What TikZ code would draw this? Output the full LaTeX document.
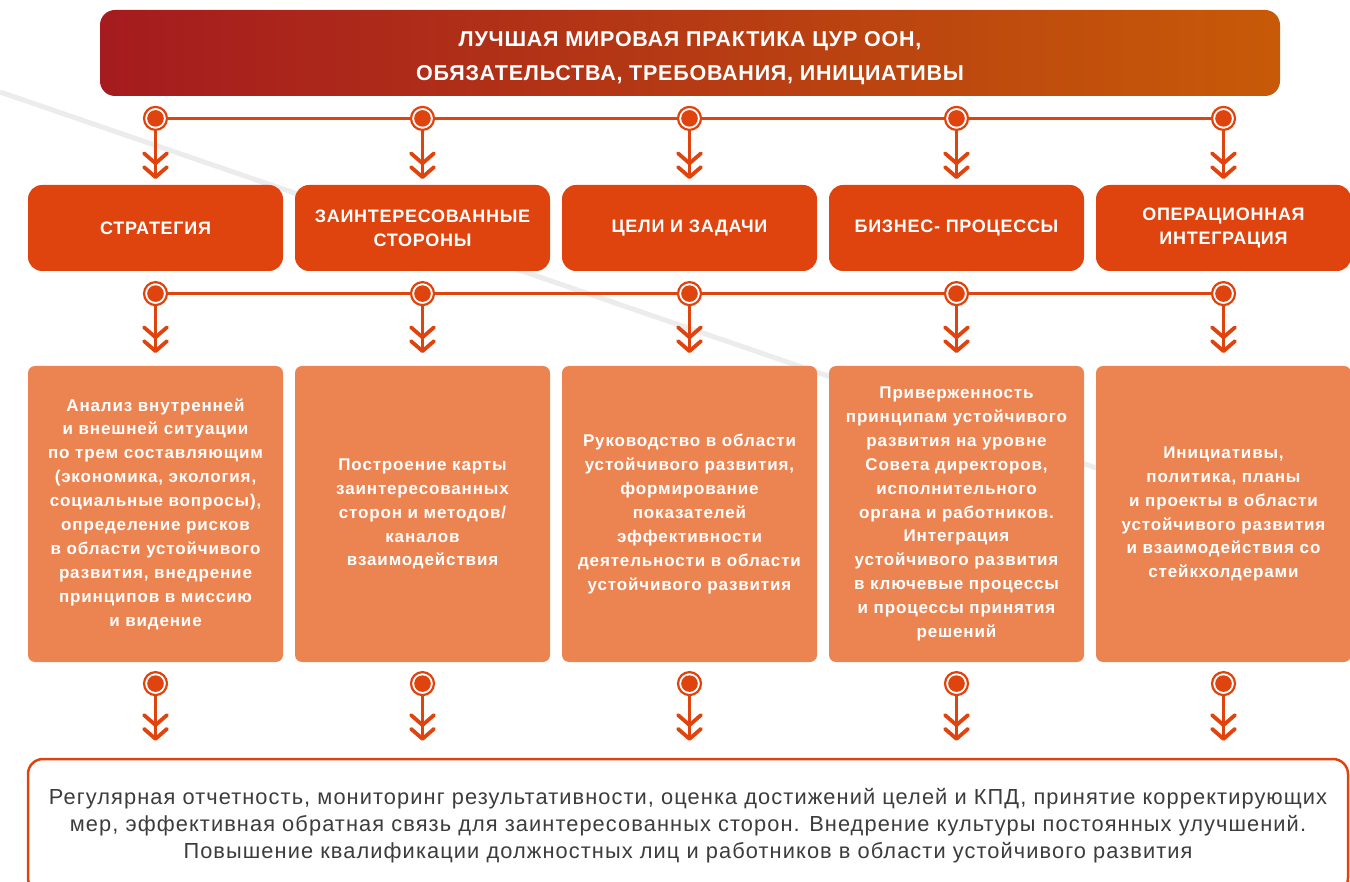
\documentclass[tikz,border=0pt]{standalone}
\usepackage{fontspec}
\setmainfont{Liberation Sans}
\usetikzlibrary{positioning}
\usetikzlibrary{arrows.meta}

\definecolor{ora}{HTML}{E0440E}
\definecolor{pale}{HTML}{EC8452}
\definecolor{wine}{HTML}{A51B1F}
\definecolor{amber}{HTML}{C75A08}
\definecolor{haze}{HTML}{ECECEC}
\definecolor{ink}{HTML}{3C3C3C}

\tikzset{dchev/.tip={Straight Barb[length=10pt,width=23pt,line width'=3.8pt,round]Straight Barb[length=10pt,width=23pt,line width'=3.8pt,round]}}

\begin{document}
\begin{tikzpicture}[x=1pt,y=-1pt,node distance=12pt,thick]
\tikzstyle{head}=[rounded corners=15pt, left color=wine, right color=amber, text=white, align=center,
	minimum width=1180pt, minimum height=86pt, font=\bfseries\fontsize{21.5}{34}\selectfont\addfontfeatures{LetterSpace=3.5}]
\tikzstyle{stage}=[rounded corners=14pt, fill=ora, text=white, align=center, outer sep=0pt,
	minimum width=255pt, minimum height=86pt, inner sep=0pt, font=\bfseries\fontsize{18}{24}\selectfont\addfontfeatures{LetterSpace=4}]
\tikzstyle{task}=[rounded corners=7pt, fill=pale, text=white, align=center, outer sep=0pt,
	minimum width=255pt, minimum height=296pt, inner sep=0pt, font=\bfseries\fontsize{17}{23.9}\selectfont\addfontfeatures{LetterSpace=5}]
\tikzstyle{hub}=[circle, draw=ora, line width=2.2pt, fill=white, minimum size=23pt, inner sep=0pt,
	path picture={\fill[ora] (path picture bounding box.center) circle (8.3pt);}]
\tikzstyle{link}=[draw=ora, line width=3pt]
\tikzstyle{flow}=[draw=ora, line width=3.3pt, -dchev, shorten >=6pt]

\useasboundingbox (0,0) rectangle (1350,882);
\draw[haze, line width=5pt] (0,92) -- (1350,555);

\node[head]	(top)	at (690,53)	{\rule{0pt}{25pt}ЛУЧШАЯ МИРОВАЯ ПРАКТИКА ЦУР ООН,\\ОБЯЗАТЕЛЬСТВА, ТРЕБОВАНИЯ, ИНИЦИАТИВЫ};

\node[stage]	(b11)	at (155.5,228)	{СТРАТЕГИЯ};
\node[stage]	(b12)	[right= of b11]	{ЗАИНТЕРЕСОВАННЫЕ\\СТОРОНЫ};
\node[stage]	(b13)	[right= of b12]	{ЦЕЛИ И ЗАДАЧИ};
\node[stage]	(b14)	[right= of b13]	{БИЗНЕС- ПРОЦЕССЫ};
\node[stage]	(b15)	[right= of b14]	{ОПЕРАЦИОННАЯ\\ИНТЕГРАЦИЯ};

\node[task]	(b21)	[below=95pt of b11]	{Анализ внутренней\\и внешней ситуации\\по трем составляющим\\(экономика, экология,\\социальные вопросы),\\определение рисков\\в области устойчивого\\развития, внедрение\\принципов в миссию\\и видение};
\node[task]	(b22)	[right= of b21]	{Построение карты\\заинтересованных\\сторон и методов/\\каналов\\взаимодействия};
\node[task]	(b23)	[right= of b22]	{Руководство в области\\устойчивого развития,\\формирование\\показателей\\эффективности\\деятельности в области\\устойчивого развития};
\node[task]	(b24)	[right= of b23]	{Приверженность\\принципам устойчивого\\развития на уровне\\Совета директоров,\\исполнительного\\органа и работников.\\Интеграция\\устойчивого развития\\в ключевые процессы\\и процессы принятия\\решений};
\node[task]	(b25)	[right= of b24]	{Инициативы,\\политика, планы\\и проекты в области\\устойчивого развития\\и взаимодействия со\\стейкхолдерами};

\node[draw=ora, line width=2.5pt, fill=white, rounded corners=15pt, minimum width=1320pt, minimum height=134pt,
	align=center, text=ink, font=\fontsize{21.8}{27}\selectfont\addfontfeatures{LetterSpace=5}]	(final)	at (688,826)
	{Регулярная отчетность, мониторинг результативности, оценка достижений целей и КПД, принятие корректирующих\\
	мер, эффективная обратная связь для заинтересованных сторон. Внедрение культуры постоянных улучшений.\\
	Повышение квалификации должностных лиц и работников в области устойчивого развития};

\foreach \k in {1,...,5}{
	\node[hub]	(h1\k)	[above=54pt of b1\k]	{};
	\node[hub]	(h2\k)	[below=10pt of b1\k]	{};
	\node[hub]	(h3\k)	[below=9pt of b2\k]	{};
}

\path	(h11)	edge[link]	(h12)
	(h12)	edge[link]	(h13)
	(h13)	edge[link]	(h14)
	(h14)	edge[link]	(h15)
	(h21)	edge[link]	(h22)
	(h22)	edge[link]	(h23)
	(h23)	edge[link]	(h24)
	(h24)	edge[link]	(h25);

\foreach \k in {1,...,5}{
	\path	(h1\k)	edge[flow]	(b1\k)
		(h2\k)	edge[flow, shorten >=13pt]	(b2\k)
		(h3\k)	edge[flow, shorten >=17pt]	(final.north -| h3\k);
}
\end{tikzpicture}
\end{document}
